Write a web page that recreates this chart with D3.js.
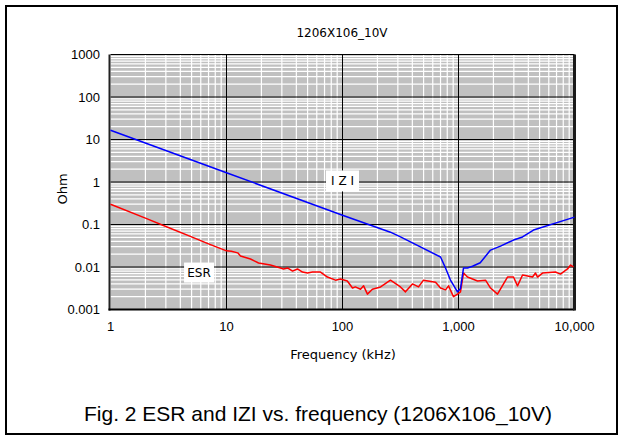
<!DOCTYPE html>
<html><head><meta charset="utf-8">
<script src="https://cdn.jsdelivr.net/npm/d3@7"></script>
<style>html,body{margin:0;padding:0;background:#fff;}svg{display:block;}</style>
</head><body>
<script>
const chartTitle = "1206X106_10V";
const caption = "Fig. 2 ESR and IZI vs. frequency (1206X106_10V)";
const xTickValues = [1, 10, 100, 1000, 10000];
const xTickLabels = ["1", "10", "100", "1,000", "10,000"];
const yTickValues = [0.001, 0.01, 0.1, 1, 10, 100, 1000];
const yTickLabels = ["0.001", "0.01", "0.1", "1", "10", "100", "1000"];

// |Z| (kHz, Ohm)
const zFreq = [1, 10, 100, 259, 316, 700, 773, 850, 980, 1040, 1105, 1196, 1320, 1540, 1888, 2300, 2979, 3565, 4430, 10000];
const zVals = [16.5, 1.65, 0.165, 0.066, 0.051, 0.0172, 0.0095, 0.005, 0.0026, 0.0031, 0.0095, 0.0095, 0.0104, 0.0126, 0.025, 0.031, 0.043, 0.051, 0.074, 0.149];

// ESR (kHz, Ohm)
const esrFreq = [1, 2, 3, 5, 7, 10, 11, 12.5, 13.2, 16.1, 18.9, 23.9, 29.2, 31, 33.6, 37.1, 40.9, 45.2, 49.9, 55.1, 64.6, 74.2, 87.1, 96.1, 110, 122, 129, 143, 152, 164, 181, 213, 259, 316, 349, 401, 452, 499, 634, 700, 773, 820, 906, 980, 1040, 1105, 1196, 1459, 1710, 1888, 2168, 2644, 2979, 3227, 3565, 4347, 4613, 4800, 5300, 6855, 7570, 8710, 9250, 9800];
const esrVals = [0.30, 0.141, 0.090, 0.051, 0.035, 0.024, 0.0235, 0.0215, 0.0182, 0.0154, 0.0124, 0.0111, 0.0095, 0.0090, 0.0095, 0.0080, 0.0090, 0.0076, 0.0072, 0.0076, 0.0076, 0.0058, 0.0049, 0.0052, 0.0047, 0.0032, 0.0034, 0.0030, 0.0036, 0.0023, 0.0030, 0.0034, 0.0049, 0.0034, 0.0026, 0.0040, 0.0034, 0.0049, 0.0044, 0.0032, 0.0029, 0.0036, 0.0020, 0.0023, 0.0026, 0.0072, 0.0058, 0.0047, 0.0049, 0.0032, 0.0023, 0.0058, 0.0058, 0.0036, 0.0065, 0.0058, 0.0072, 0.0058, 0.0072, 0.0076, 0.0068, 0.0090, 0.0111, 0.0101];

const W = 624, H = 438;
const svg = d3.select("body").append("svg").attr("width", W).attr("height", H);

// outer frame
svg.append("rect").attr("x", 6).attr("y", 6).attr("width", 611).attr("height", 428)
  .attr("fill", "#fff").attr("stroke", "#000").attr("stroke-width", 2);

const x = d3.scaleLog().domain([1, 10000]).range([110.5, 574.5]);
const y = d3.scaleLog().domain([0.001, 1000]).range([309.5, 54.5]);

const g = svg.append("g");
g.append("rect").attr("x", x(1)).attr("y", y(1000)).attr("width", x(10000) - x(1)).attr("height", y(0.001) - y(1000)).attr("fill", "#c0c0c0");

// minor grid
const xMinor = [], yMinor = [];
for (let d = 1; d < 10000; d *= 10) for (let k = 2; k <= 9; k++) xMinor.push(d * k);
for (let d = 0.001; d < 999; d *= 10) for (let k = 2; k <= 9; k++) yMinor.push(d * k);
g.selectAll(".xm").data(xMinor).join("line").attr("x1", d => x(d)).attr("x2", d => x(d))
  .attr("y1", y(1000)).attr("y2", y(0.001)).attr("stroke", "#fff").attr("stroke-width", 1.2);
g.selectAll(".ym").data(yMinor).join("line").attr("y1", d => y(d)).attr("y2", d => y(d))
  .attr("x1", x(1)).attr("x2", x(10000)).attr("stroke", "#fff").attr("stroke-width", 1.2);

// major grid
g.selectAll(".xM").data(xTickValues.slice(1, -1)).join("line").attr("x1", d => x(d)).attr("x2", d => x(d))
  .attr("y1", y(1000)).attr("y2", y(0.001)).attr("stroke", "#000").attr("stroke-width", 1);
g.selectAll(".yM").data(yTickValues.slice(1)).join("line").attr("y1", d => y(d)).attr("y2", d => y(d))
  .attr("x1", x(1)).attr("x2", x(10000)).attr("stroke", "#000").attr("stroke-width", 1);

// plot borders
g.append("line").attr("x1", x(1) - 1).attr("x2", x(1) - 1).attr("y1", y(1000)).attr("y2", y(0.001) + 1).attr("stroke", "#222").attr("stroke-width", 2);
g.append("line").attr("x1", x(1) - 2).attr("x2", x(10000)).attr("y1", y(0.001)).attr("y2", y(0.001)).attr("stroke", "#000").attr("stroke-width", 2);
g.append("line").attr("x1", x(10000)).attr("x2", x(10000)).attr("y1", y(1000)).attr("y2", y(0.001) + 1).attr("stroke", "#1a1a1a").attr("stroke-width", 3);

// lines
const zData = zFreq.map((f, i) => [f, zVals[i]]);
const esrData = esrFreq.map((f, i) => [f, esrVals[i]]);
const line = d3.line().x(d => x(d[0])).y(d => y(d[1]));
g.append("path").datum(esrData).attr("d", line).attr("fill", "none").attr("stroke", "#ff0000").attr("stroke-width", 1.5).attr("stroke-linejoin", "round");
g.append("path").datum(zData).attr("d", line).attr("fill", "none").attr("stroke", "#0000ff").attr("stroke-width", 1.5).attr("stroke-linejoin", "round");

// series labels
function boxLabel(txt, f, v, w, h) {
  const cx = x(f), cy = y(v);
  svg.append("rect").attr("x", cx - w / 2).attr("y", cy - h / 2).attr("width", w).attr("height", h).attr("fill", "#fff");
  svg.append("text").attr("x", cx).attr("y", cy).attr("text-anchor", "middle").attr("dominant-baseline", "central")
    .attr("font-family", "DejaVu Sans, sans-serif").attr("font-size", 12).attr("fill", "#000").text(txt);
}
boxLabel("ESR", 5.8, 0.0074, 30, 20);
boxLabel("I Z I", 100, 1.06, 33, 21);

// tick labels
const font = "Liberation Sans, Arial, sans-serif";
svg.selectAll(".yt").data(yTickValues).join("text").attr("x", 100).attr("y", d => y(d))
  .attr("text-anchor", "end").attr("dominant-baseline", "central").attr("font-family", font).attr("font-size", 13)
  .text((d, i) => yTickLabels[i]);
svg.selectAll(".xt").data(xTickValues).join("text").attr("x", d => x(d)).attr("y", 326)
  .attr("text-anchor", "middle").attr("dominant-baseline", "central").attr("font-family", font).attr("font-size", 13)
  .text((d, i) => xTickLabels[i]);

// titles
svg.append("text").attr("x", 342).attr("y", 33).attr("text-anchor", "middle").attr("dominant-baseline", "central")
  .attr("font-family", "DejaVu Sans, sans-serif").attr("font-size", 12).text(chartTitle);
svg.append("text").attr("x", 343).attr("y", 354).attr("text-anchor", "middle").attr("dominant-baseline", "central")
  .attr("font-family", "DejaVu Sans, sans-serif").attr("font-size", 13).text("Frequency (kHz)");
svg.append("text").attr("transform", "translate(62,189) rotate(-90)").attr("text-anchor", "middle").attr("dominant-baseline", "central")
  .attr("font-family", "DejaVu Sans, sans-serif").attr("font-size", 13).text("Ohm");
svg.append("text").attr("x", 318).attr("y", 413).attr("text-anchor", "middle").attr("dominant-baseline", "central")
  .attr("font-family", font).attr("font-size", 21).text(caption);
</script>
</body></html>
